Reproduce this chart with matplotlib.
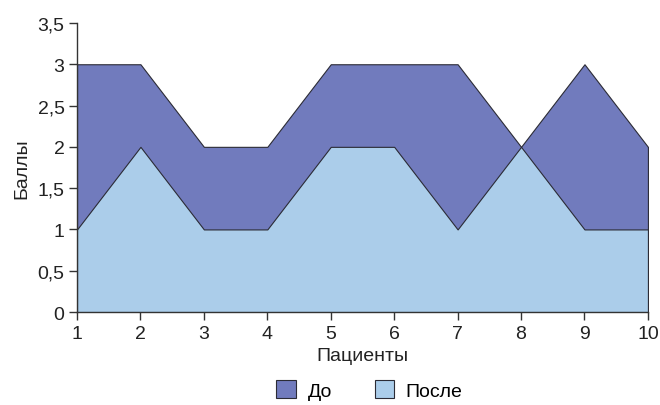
import matplotlib
matplotlib.use("Agg")
import matplotlib.pyplot as plt
from matplotlib.patches import Patch
from matplotlib.ticker import FuncFormatter

patients = [1, 2, 3, 4, 5, 6, 7, 8, 9, 10]
before = [3, 3, 2, 2, 3, 3, 3, 2, 3, 2]
after = [1, 2, 1, 1, 2, 2, 1, 2, 1, 1]
series_names = ["До", "После"]
y_ticks = [0, 0.5, 1, 1.5, 2, 2.5, 3, 3.5]

plt.rcParams['font.family'] = ['Liberation Sans', 'DejaVu Sans']

c_before = "#717bbd"
c_after = "#abcdea"
edge = "#2b2b35"

fig = plt.figure(figsize=(6.6, 4.06), dpi=100)
ax = fig.add_axes([0.1167, 0.229, 0.865, 0.712])

ax.fill_between(patients, 0, before, facecolor=c_before, edgecolor=edge, linewidth=0.8)
ax.fill_between(patients, 0, after, facecolor=c_after, edgecolor=edge, linewidth=0.8)

ax.set_xlim(1, 10)
ax.set_ylim(0, 3.5)
ax.set_xticks(patients)
ax.set_yticks(y_ticks)
ax.yaxis.set_major_formatter(FuncFormatter(lambda v, p: f"{v:g}".replace(".", ",")))

for s in ["top", "right"]:
    ax.spines[s].set_visible(False)
for s in ["left", "bottom"]:
    ax.spines[s].set_color("#333333")
    ax.spines[s].set_linewidth(1.0)
ax.tick_params(axis="both", labelsize=14, length=6, width=1.0, color="#333333",
               labelcolor="#222222", pad=3)

ax.set_xlabel("Пациенты", fontsize=14, color="#222222", labelpad=4)
ax.set_ylabel("Баллы", fontsize=14, color="#222222", labelpad=5)

handles = [Patch(facecolor=c_before, edgecolor=edge, linewidth=0.8),
           Patch(facecolor=c_after, edgecolor=edge, linewidth=0.8)]
fig.legend(handles, series_names, loc="lower center", bbox_to_anchor=(0.56, -0.03),
           ncol=2, frameon=False, fontsize=14, handlelength=1.0, handleheight=1.0,
           columnspacing=2.2, handletextpad=0.6)

fig.savefig("out.png", dpi=100)
